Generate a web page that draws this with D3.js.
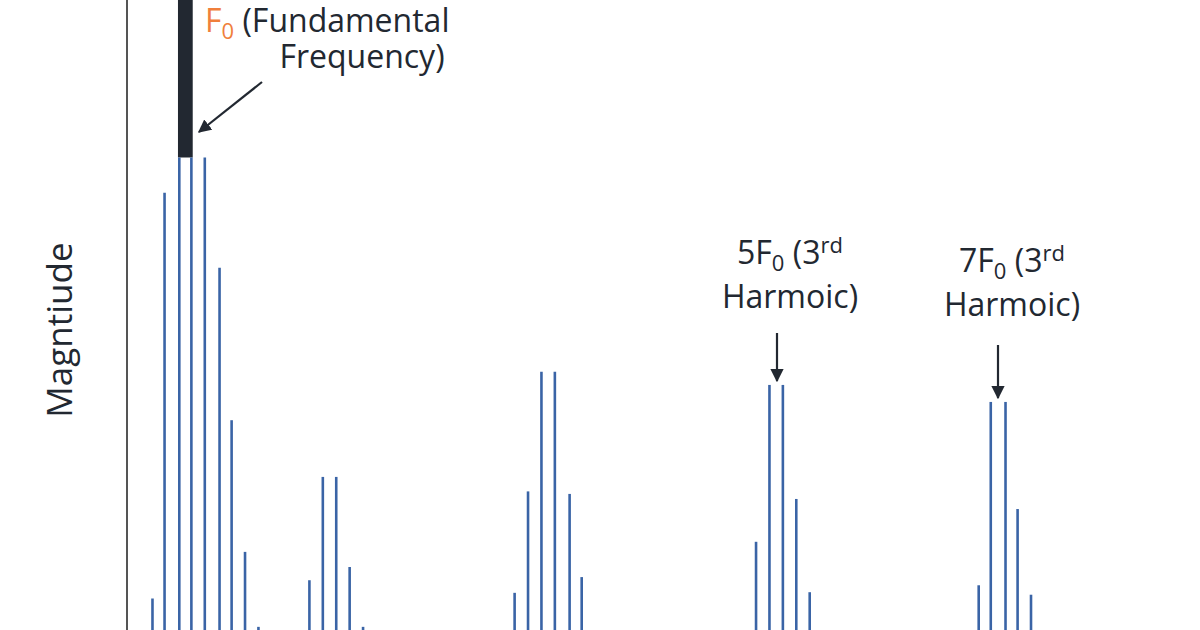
<!DOCTYPE html><html><head><meta charset="utf-8"><script src="https://cdn.jsdelivr.net/npm/d3@7"></script>
<style>body{margin:0;background:#fff}text{font-family:"Open Sans",sans-serif;fill:#222831}</style></head><body>
<svg id="c" width="1200" height="630"></svg>
<script>
const freqs = [1.9,2.8,3.9,4.8,5.8,6.9,7.8,8.8,9.8, 13.6,14.6,15.6,16.6,17.6, 28.9,29.9,30.9,31.9,33.0,33.9, 46.9,47.9,48.9,49.9,50.9, 63.5,64.4,65.5,66.4,67.4];
const mags  = [5,69.4,75,75,75,57.5,33.3,12.4,0.5, 7.9,24.3,24.3,10,0.5, 5.9,22,41,41,21.6,8.4, 14,38.9,38.9,20.8,6, 7.1,36.2,36.2,19.2,5.6];
const fundamentalBand = [3.8, 4.9, 75, 100];
const svg = d3.select("#c");
const x = d3.scaleLinear().domain([0, 80]).range([127, 1200]);
const y = d3.scaleLinear().domain([0, 100]).range([630, 0]);
svg.append("line").attr("x1",x(0)).attr("x2",x(0)).attr("y1",0).attr("y2",630).attr("stroke","#555").attr("stroke-width",2);
svg.append("rect").attr("x",x(fundamentalBand[0])).attr("width",x(fundamentalBand[1])-x(fundamentalBand[0]))
  .attr("y",y(fundamentalBand[3])).attr("height",y(fundamentalBand[2])-y(fundamentalBand[3])).attr("fill","#222831");
svg.selectAll(".s").data(freqs).join("line").attr("x1",d=>x(d)).attr("x2",d=>x(d))
  .attr("y1",y(0)).attr("y2",(d,i)=>y(mags[i])).attr("stroke","#3a64a6").attr("stroke-width",2.6);
svg.append("text").attr("transform","translate(72,330) rotate(-90)").attr("text-anchor","middle").attr("font-size",35).text("Magntiude");
const defs=svg.append("defs");
defs.append("marker").attr("id","ah").attr("viewBox","0 0 10 10").attr("refX",9).attr("refY",5).attr("markerWidth",6).attr("markerHeight",6).attr("orient","auto")
 .append("path").attr("d","M0,0L10,5L0,10z").attr("fill","#222831");
function arrow(x1,y1,x2,y2){svg.append("line").attr("x1",x1).attr("y1",y1).attr("x2",x2).attr("y2",y2).attr("stroke","#222831").attr("stroke-width",2.2).attr("marker-end","url(#ah)");}
const t1=svg.append("text").attr("x",205).attr("y",32).attr("font-size",32);
t1.append("tspan").style("fill","#f07f3c").text("F");
t1.append("tspan").attr("dy",7).attr("font-size",22).style("fill","#f07f3c").text("0");
t1.append("tspan").attr("dy",-7).text(" (Fundamental");
svg.append("text").attr("x",362).attr("y",68).attr("text-anchor","middle").attr("font-size",32).text("Frequency)");
arrow(262,82,199,132);
function harm(cx,y1,pre){
  const t=svg.append("text").attr("x",cx).attr("y",y1).attr("text-anchor","middle").attr("font-size",32);
  t.append("tspan").text(pre+"F");
  t.append("tspan").attr("dy",7).attr("font-size",22).text("0");
  t.append("tspan").attr("dy",-7).text(" (3");
  t.append("tspan").attr("dy",-11).attr("font-size",22).text("rd");
  svg.append("text").attr("x",cx).attr("y",y1+44).attr("text-anchor","middle").attr("font-size",32).text("Harmoic)");
}
harm(790,264,"5"); harm(1012,272,"7");
arrow(777,333,777,381); arrow(998,345,998,398);
</script></body></html>
